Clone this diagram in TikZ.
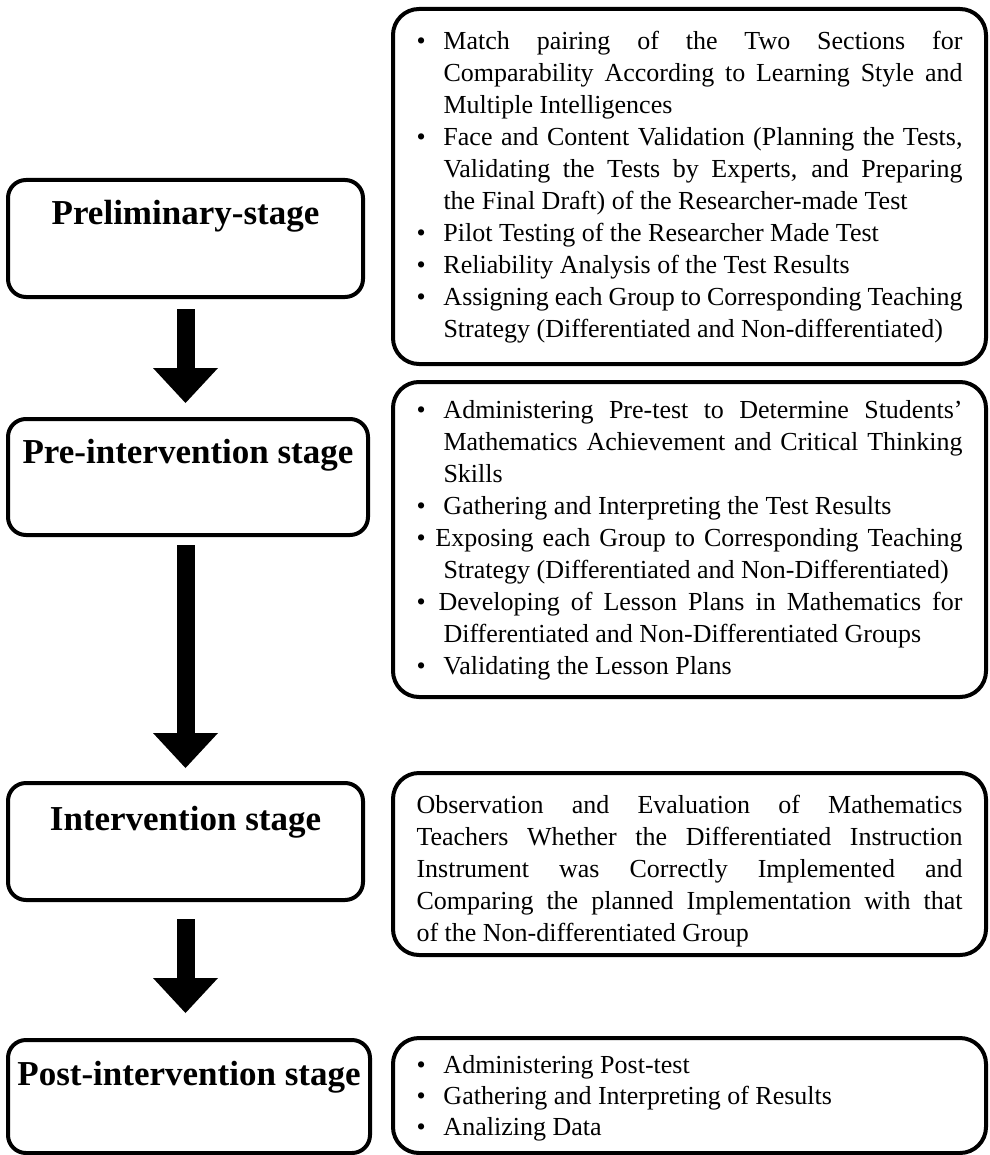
\documentclass[tikz,border=0pt]{standalone}
\usepackage{fontspec}
\setmainfont{Liberation Serif}
\usetikzlibrary{arrows.meta}
\newcommand\BJ[2][27pt]{\hbox to\linewidth{\hbox to #1{\textbullet\hfil}#2}}
\newcommand\BL[2][27pt]{\hbox to\linewidth{\hbox to #1{\textbullet\hfil}#2\hfil}}
\newcommand\CJ[1]{\hbox to\linewidth{\hskip27pt #1}}
\newcommand\CL[1]{\hbox to\linewidth{\hskip27pt #1\hfil}}
\newcommand\PJ[1]{\hbox to\linewidth{#1}}
\newcommand\PL[1]{\hbox to\linewidth{#1\hfil}}
\newcommand\Lines[2][32pt]{\parbox[t]{546pt}{\baselineskip=#1\lineskiplimit=-100pt\relax #2}}
\tikzset{
  stagebox/.style={draw, line width=4pt, rounded corners=18pt, inner sep=0pt,
    font=\fontsize{35}{40}\selectfont\bfseries},
  detailbox/.style={draw, line width=4pt, rounded corners=26pt, inner xsep=23.5pt, inner ysep=0pt,
    minimum width=593pt, font=\fontsize{26}{32}\selectfont},
  bigarrow/.style={line width=18pt, -{Triangle[width=65pt,length=35pt,line width=0pt]}}
}
\begin{document}
\begin{tikzpicture}[x=1pt,y=-1pt]
\useasboundingbox (0,0) rectangle (989,1155);
% stage boxes
\node[stagebox, minimum width=355pt, minimum height=117pt, text height=45pt, text depth=72pt]
  (prelim) at (185.5,238.5) {Preliminary-stage};
\node[stagebox, minimum width=360pt, minimum height=116pt, text height=44pt, text depth=72pt]
  (preint) at (188,477) {Pre-intervention stage};
\node[stagebox, minimum width=355pt, minimum height=117pt, text height=47pt, text depth=70pt]
  (interv) at (185.5,841.5) {Intervention stage};
\node[stagebox, minimum width=362pt, minimum height=113pt, text height=45pt, text depth=68pt]
  (post) at (189,1096.5) {Post-intervention stage};
% detail boxes
\node[detailbox, minimum height=355pt, text height=41pt, text depth=314pt] (d1) at (689.5,186.5) {\Lines{%
\BJ{Match pairing of the Two Sections for}
\CJ{Comparability According to Learning Style and}
\CL{Multiple Intelligences}
\BJ{Face and Content Validation (Planning the Tests,}
\CJ{Validating the Tests by Experts, and Preparing}
\CL{the Final Draft) of the Researcher-made Test}
\BL{Pilot Testing of the Researcher Made Test}
\BL{Reliability Analysis of the Test Results}
\BJ{Assigning each Group to Corresponding Teaching}
\CL{Strategy (Differentiated and Non-differentiated)}}};
\node[detailbox, minimum height=315pt, text height=36pt, text depth=279pt] (d2) at (689.5,539.5) {\Lines{%
\BJ{Administering Pre-test to Determine Students’}
\CJ{Mathematics Achievement and Critical Thinking}
\CL{Skills}
\BL{Gathering and Interpreting the Test Results}
\BJ[19pt]{Exposing each Group to Corresponding Teaching}
\CL{Strategy (Differentiated and Non-Differentiated)}
\BJ[22pt]{Developing of Lesson Plans in Mathematics for}
\CL{Differentiated and Non-Differentiated Groups}
\BL{Validating the Lesson Plans}}};
\node[detailbox, minimum height=182pt, text height=40pt, text depth=142pt] (d3) at (689.5,864) {\Lines{%
\PJ{Observation and Evaluation of Mathematics}
\PJ{Teachers Whether the Differentiated Instruction}
\PJ{Instrument was Correctly Implemented and}
\PJ{Comparing the planned Implementation with that}
\PL{of the Non-differentiated Group}}};
\node[detailbox, minimum height=115pt, text height=35pt, text depth=80pt] (d4) at (689.5,1095.5) {\Lines[31pt]{%
\BL{Administering Post-test}
\BL{Gathering and Interpreting of Results}
\BL{Analizing Data}}};
% arrows
\draw[bigarrow, shorten <=10pt, shorten >=14pt] (prelim.south) -- (prelim.south |- preint.north);
\draw[bigarrow, shorten <=8pt, shorten >=13pt] (interv.north |- preint.south) -- (interv.north);
\draw[bigarrow, shorten <=17pt, shorten >=25pt] (interv.south) -- (interv.south |- post.north);
\end{tikzpicture}
\end{document}
